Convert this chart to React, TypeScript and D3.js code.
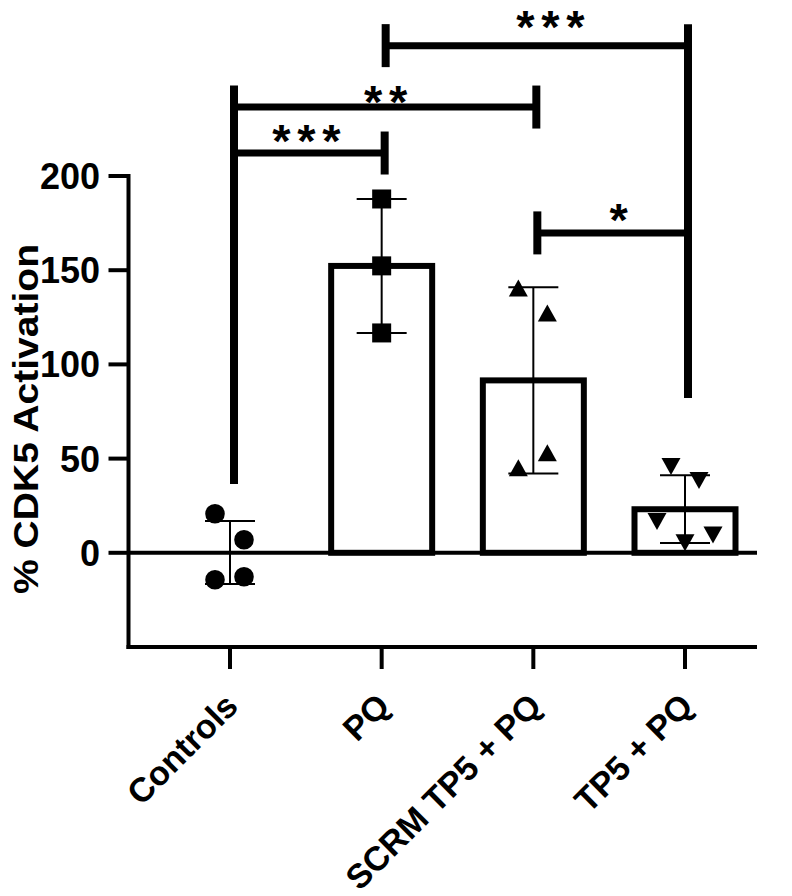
import React from "react";
import * as d3 from "d3";

// ---------- data ----------
const categories = ["Controls", "PQ", "SCRM TP5 + PQ", "TP5 + PQ"];
const controlsValues = [20.7, 6.9, -14.3, -12.7];
const pqValues = [187.8, 152.3, 116.7];
const scrmValues = [140.6, 127.3, 53.05, 45.1];
const tp5Values = [45.8, 38.4, 16.6, 5.3, 9.5];
const seriesValues = [controlsValues, pqValues, scrmValues, tp5Values];
const markerShapes = ["circle", "square", "triangle", "triangleDown"];
const yTicks = [0, 50, 100, 150, 200];
const yDomain = [-50, 200];

// significance brackets: group indices, level (y value), label
const bracketFrom = [0, 0, 1, 2];
const bracketTo = [1, 2, 3, 3];
const bracketLevel = [212.2, 236.6, 269.2, 169.8];
const bracketLabel = ["***", "**", "***", "*"];
// how far down the long bracket legs reach (y value), per group
const legDrop = [36.5, null, null, 82.2];

// ---------- layout ----------
const W = 792;
const H = 896;
const axisX = 128.5;
const rightEnd = 757;
const jitter = [
  [-15, 14, -15, 14],
  [0, 0, 0],
  [-15, 14, 14, -15],
  [-14, 14, -28, 0, 28],
];
const labelDx = [-3, 0.5, 13.5, 6];
const labelAbove = [22.5, 15.5, 29, 24];
const FONT = "'Liberation Sans', Arial, Helvetica, sans-serif";

function markerPath(shape: string, cx: number, cy: number): string {
  if (shape === "circle") {
    const r = 9.8;
    return `M${cx - r},${cy}a${r},${r} 0 1,0 ${2 * r},0a${r},${r} 0 1,0 ${-2 * r},0Z`;
  }
  if (shape === "square") {
    const s = 9.5;
    return `M${cx - s},${cy - s}h${2 * s}v${2 * s}h${-2 * s}Z`;
  }
  const hw = 9.5;
  const hh = 8.5;
  if (shape === "triangle") {
    return `M${cx},${cy - hh}L${cx + hw},${cy + hh}L${cx - hw},${cy + hh}Z`;
  }
  return `M${cx - hw},${cy - hh}L${cx + hw},${cy - hh}L${cx},${cy + hh}Z`;
}

export default function App() {
  const x = d3.scalePoint<string>().domain(categories).range([230, 685]);
  const y = d3.scaleLinear().domain(yDomain).range([647, 176]);
  const barW = 101;
  const capHalf = 25;
  const tickHalf = 21.5;
  const starFs = 47;
  const starGap = 25;

  const stats = seriesValues.map((vals) => ({
    mean: d3.mean(vals) as number,
    sd: d3.deviation(vals) as number,
  }));

  return (
    <svg
      width={W}
      height={H}
      style={{ position: "absolute", left: 0, top: 0, background: "#fff" }}
      fontFamily={FONT}
    >
      <rect x={0} y={0} width={W} height={H} fill="#fff" />

      {/* bars */}
      {categories.map((c, i) => {
        const m = stats[i].mean;
        if (i === 0) return null;
        const cx = x(c) as number;
        return (
          <rect
            key={"bar" + i}
            x={cx - barW / 2}
            y={y(Math.max(m, 0))}
            width={barW}
            height={Math.abs(y(m) - y(0))}
            fill="#fff"
            stroke="#000"
            strokeWidth={6}
          />
        );
      })}

      {/* zero line */}
      <line x1={axisX} x2={rightEnd} y1={y(0)} y2={y(0)} stroke="#000" strokeWidth={4} />

      {/* y axis */}
      <line x1={axisX} x2={axisX} y1={y(200) - 2} y2={y(-50) + 2} stroke="#000" strokeWidth={4} />
      {yTicks.map((t) => (
        <g key={"yt" + t}>
          <line x1={axisX - 20} x2={axisX} y1={y(t)} y2={y(t)} stroke="#000" strokeWidth={4} />
          <text
            x={100}
            y={y(t)}
            dy="0.36em"
            textAnchor="end"
            fontSize={36}
            fontWeight="bold"
          >
            {t}
          </text>
        </g>
      ))}

      {/* x axis */}
      <line x1={axisX - 2} x2={rightEnd} y1={y(-50)} y2={y(-50)} stroke="#000" strokeWidth={4} />
      {categories.map((c) => {
        const cx = x(c) as number;
        return (
          <g key={"xt" + c}>
            <line x1={cx} x2={cx} y1={y(-50)} y2={y(-50) + 22} stroke="#000" strokeWidth={4} />
            <text
              transform={`translate(${cx + 10},${708}) rotate(-45)`}
              textAnchor="end"
              fontSize={34}
              fontWeight="bold"
            >
              {c}
            </text>
          </g>
        );
      })}

      {/* y title */}
      <text
        transform={`translate(38,${419}) rotate(-90)`}
        textAnchor="middle"
        fontSize={35}
        fontWeight="bold"
        textLength={350}
        lengthAdjust="spacingAndGlyphs"
      >
        % CDK5 Activation
      </text>

      {/* error bars */}
      {categories.map((c, i) => {
        const cx = x(c) as number;
        const { mean, sd } = stats[i];
        return (
          <g key={"eb" + i} stroke="#000" strokeWidth={2}>
            <line x1={cx} x2={cx} y1={y(mean + sd)} y2={y(mean - sd)} />
            <line x1={cx - capHalf} x2={cx + capHalf} y1={y(mean + sd)} y2={y(mean + sd)} />
            <line x1={cx - capHalf} x2={cx + capHalf} y1={y(mean - sd)} y2={y(mean - sd)} />
          </g>
        );
      })}

      {/* points */}
      {seriesValues.map((vals, i) =>
        vals.map((v, j) => (
          <path
            key={"pt" + i + "-" + j}
            d={markerPath(markerShapes[i], (x(categories[i]) as number) + jitter[i][j], y(v))}
            fill="#000"
          />
        ))
      )}

      {/* significance brackets */}
      {bracketLabel.map((lab, k) => {
        const x1 = x(categories[bracketFrom[k]]) as number + 4;
        const x2 = x(categories[bracketTo[k]]) as number + 3;
        const ly = y(bracketLevel[k]);
        const legBottom = (g: number) => {
          const d = legDrop[g];
          return d == null ? ly + tickHalf : Math.max(ly + tickHalf, y(d));
        };
        const midX = (x1 + x2) / 2 + labelDx[k];
        const cy = ly - labelAbove[k];
        const n = lab.length;
        return (
          <g key={"br" + k}>
            <line x1={x1} x2={x2} y1={ly} y2={ly} stroke="#000" strokeWidth={7} />
            <line x1={x1} x2={x1} y1={ly - tickHalf} y2={legBottom(bracketFrom[k])} stroke="#000" strokeWidth={8} />
            <line x1={x2} x2={x2} y1={ly - tickHalf} y2={legBottom(bracketTo[k])} stroke="#000" strokeWidth={8} />
            {d3.range(n).map((s) => (
              <text
                key={s}
                x={midX + (s - (n - 1) / 2) * starGap}
                y={cy + 0.57 * starFs}
                textAnchor="middle"
                fontSize={starFs}
                fontWeight="bold"
              >
                *
              </text>
            ))}
          </g>
        );
      })}
    </svg>
  );
}
